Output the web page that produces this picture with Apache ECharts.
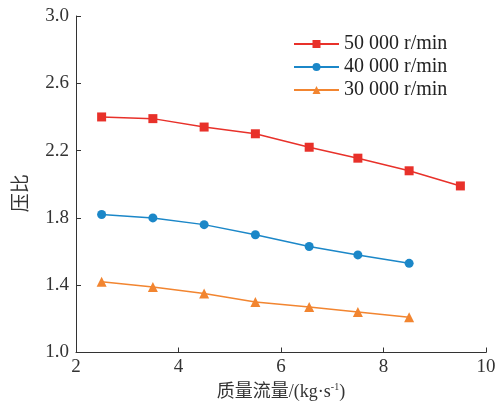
<!DOCTYPE html>
<html>
<head>
<meta charset="utf-8">
<script src="https://cdn.jsdelivr.net/npm/echarts@6/dist/echarts.min.js"></script>
<style>
  html, body { margin: 0; padding: 0; background: #fff; }
  #chart { width: 501px; height: 406px; }
</style>
</head>
<body>
<div id="chart"></div>
<script>
// 数据
var flow = [2.5, 3.5, 4.5, 5.5, 6.55, 7.5, 8.5, 9.5]
var ratio50k = [2.40, 2.39, 2.34, 2.30, 2.22, 2.155, 2.08, 1.99]
var ratio40k = [1.82, 1.80, 1.76, 1.70, 1.63, 1.58, 1.53]
var ratio30k = [1.42, 1.39, 1.35, 1.30, 1.27, 1.24, 1.21]
var seriesNames = ['50 000 r/min', '40 000 r/min', '30 000 r/min']

function pairs (xs, ys) {
  return ys.map(function (y, i) { return [xs[i], y] })
}

var serif = '"Liberation Serif", "Noto Sans CJK SC", serif'
var chart = echarts.init(document.getElementById('chart'))

chart.setOption({
  animation: false,
  grid: { left: 76, right: 15, top: 16, bottom: 53 },
  legend: {
    left: 288,
    top: 29,
    orient: 'vertical',
    itemWidth: 45,
    itemHeight: 10,
    itemGap: 3,
    textStyle: { fontFamily: serif, fontSize: 20, color: '#222' },
    data: seriesNames
  },
  xAxis: {
    type: 'value',
    min: 2,
    max: 10,
    interval: 2,
    name: '质量流量/(kg·s{sup|-1})',
    nameLocation: 'middle',
    nameGap: 30,
    nameTextStyle: {
      fontFamily: serif,
      fontSize: 18,
      color: '#333',
      rich: { sup: { fontSize: 10, verticalAlign: 'top', padding: [0, 0, 9, 0], fontFamily: serif, color: '#333' } }
    },
    axisLine: { lineStyle: { color: '#333', width: 1 } },
    axisTick: { inside: true, length: 5, lineStyle: { color: '#333' } },
    axisLabel: { fontFamily: serif, fontSize: 19, color: '#333', margin: 5 },
    splitLine: { show: false }
  },
  yAxis: {
    type: 'value',
    min: 1.0,
    max: 3.0,
    interval: 0.4,
    name: '压比',
    nameLocation: 'middle',
    nameGap: 44,
    nameTextStyle: { fontFamily: serif, fontSize: 19, color: '#333', padding: [0, 0, 0, -18] },
    axisLine: { show: true, lineStyle: { color: '#333', width: 1 } },
    axisTick: { show: true, inside: true, length: 5, lineStyle: { color: '#333' } },
    axisLabel: {
      fontFamily: serif, fontSize: 19, color: '#333', margin: 7,
      formatter: function (v) { return v.toFixed(1) }
    },
    splitLine: { show: false }
  },
  series: [
    {
      name: seriesNames[0],
      type: 'line',
      data: pairs(flow, ratio50k),
      symbol: 'rect',
      symbolSize: 9,
      itemStyle: { color: '#e8312a' },
      lineStyle: { color: '#e8312a', width: 1.5 }
    },
    {
      name: seriesNames[1],
      type: 'line',
      data: pairs(flow, ratio40k),
      symbol: 'circle',
      symbolSize: 9,
      itemStyle: { color: '#1b87c8' },
      lineStyle: { color: '#1b87c8', width: 1.5 }
    },
    {
      name: seriesNames[2],
      type: 'line',
      data: pairs(flow, ratio30k),
      symbol: 'triangle',
      symbolSize: 10,
      itemStyle: { color: '#f28530' },
      lineStyle: { color: '#f28530', width: 1.5 }
    }
  ]
})
</script>
</body>
</html>
